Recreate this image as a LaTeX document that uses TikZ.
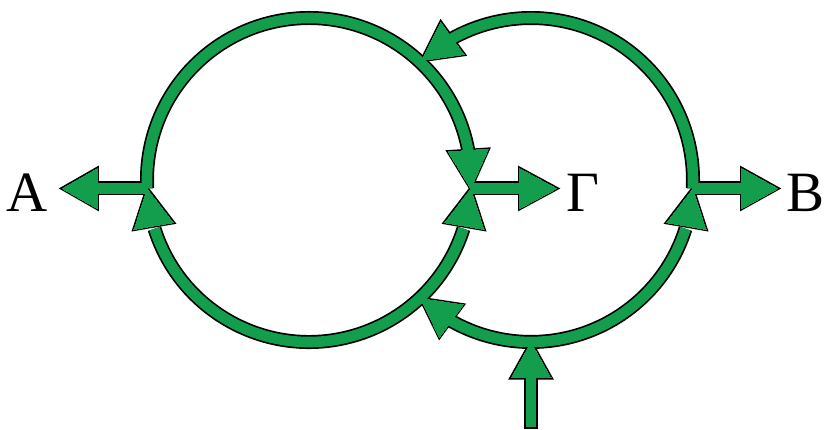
\documentclass[tikz,border=0pt]{standalone}
\usepackage{fontspec}
\setmainfont{Liberation Serif}
\definecolor{flow}{RGB}{18,158,76}
\usetikzlibrary{calc,positioning}

\begin{document}
\begin{tikzpicture}[x=1pt,y=1pt,
    lbl/.style={font=\fontsize{57}{60}\selectfont,inner sep=0pt,yshift=-4pt}]
  \useasboundingbox (0,0) rectangle (828,430);
  % circle centres and junctions
  \coordinate (lc) at (309,250);
  \coordinate (rc) at (531,250);
  \coordinate (ja) at ($(lc)+(183:162)$);
  \coordinate (jg) at ($(lc)+(-3:162)$);
  \coordinate (jb) at ($(rc)+(-3:162)$);
  \coordinate (atip) at ($(ja)+(-85,0)$);
  \coordinate (abase) at ($(ja)+(-50,0)$);
  \coordinate (gtip) at ($(jg)+(86,0)$);
  \coordinate (gbase) at ($(jg)+(49,0)$);
  \coordinate (btip) at ($(jb)+(85,0)$);
  \coordinate (bbase) at ($(jb)+(49,0)$);
  \coordinate (intip) at ($(rc)+(270:162)$);
  \coordinate (inbase) at ($(intip)+(0,-36)$);
  \coordinate (intail) at (531,3);
  \foreach \n/\o/\a/\b in {hgup/lc/-3/10.5, hgdn/lc/-3/-16.5, ha/lc/183/196.5,
                          hb/rc/-3/-16.5, htop/rc/132.5/119, hbot/rc/227/240.5} {
    \coordinate (\n-tip) at ($(\o)+(\a:162)$);
    \coordinate (\n-base) at ($(\o)+(\b:162)$);
  }
  % black outline first, green body on top
  \foreach \c/\w/\t in {black/14pt/3.4pt, flow/10.6pt/0pt} {
    \draw[\c,line width=\w] (ja) arc[start angle=183,end angle=9.5,radius=162];
    \draw[\c,line width=\w] ($(lc)+(197.5:162)$) arc[start angle=197.5,end angle=342.5,radius=162];
    \draw[\c,line width=\w] (jb) arc[start angle=-3,end angle=120,radius=162];
    \draw[\c,line width=\w] ($(rc)+(239.5:162)$) arc[start angle=239.5,end angle=342.5,radius=162];
    \draw[\c,line width=\w] (ja) -- (abase);
    \draw[\c,line width=\w] (jg) -- (gbase);
    \draw[\c,line width=\w] (jb) -- (bbase);
    \draw[\c,line width=\w] ($(intail)-(0,\t/2)$) -- (inbase);
    \foreach \p/\q in {atip/abase, gtip/gbase, btip/bbase, intip/inbase,
                       hgup-tip/hgup-base, hgdn-tip/hgdn-base, ha-tip/ha-base,
                       hb-tip/hb-base, htop-tip/htop-base, hbot-tip/hbot-base}
      \filldraw[\c,line width=\t] (\p) -- ($(\q)!20pt!90:(\p)$) -- ($(\q)!20pt!-90:(\p)$) -- cycle;
  }
  \node[lbl,left=14pt of atip] (la) {Α};
  \node[lbl,right=10pt of gtip] (lg) {Γ};
  \node[lbl,right=9pt of btip] (lb) {Β};
\end{tikzpicture}
\end{document}
